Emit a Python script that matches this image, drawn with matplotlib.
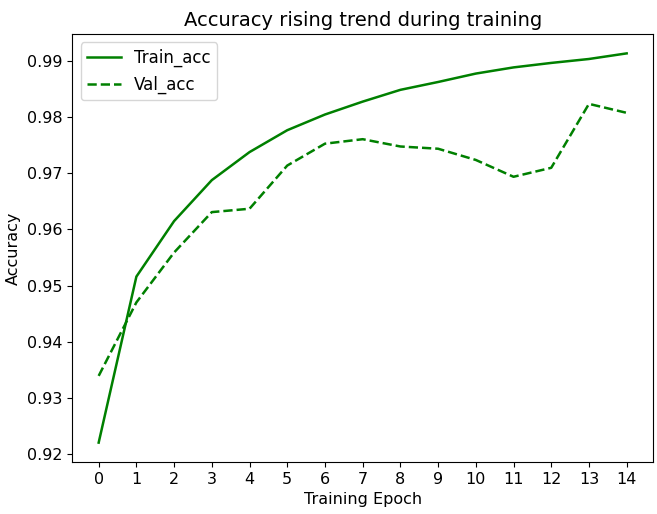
import matplotlib
matplotlib.use('Agg')
import matplotlib.pyplot as plt
import numpy as np

epochs = list(range(15))
train_acc = [0.9220, 0.9516, 0.9615, 0.9688, 0.9738, 0.9777, 0.9805, 0.9828,
             0.9849, 0.9863, 0.9878, 0.9889, 0.9897, 0.9904, 0.9914]
val_acc = [0.9339, 0.9470, 0.9559, 0.9631, 0.9637, 0.9714, 0.9753, 0.9761,
           0.9748, 0.9744, 0.9724, 0.9694, 0.9710, 0.9824, 0.9808]

fig = plt.figure(figsize=(6.57, 5.14), dpi=100)
ax = fig.add_axes([0.110, 0.101, 0.884, 0.833])
ax.plot(epochs, train_acc, 'g-', lw=1.8, label='Train_acc')
ax.plot(epochs, val_acc, 'g--', lw=1.8, label='Val_acc')

ax.set_xticks(epochs)
ax.set_yticks([0.92, 0.93, 0.94, 0.95, 0.96, 0.97, 0.98, 0.99])
ax.tick_params(labelsize=11.5)
ax.set_xlabel('Training Epoch', fontsize=11.5)
ax.set_ylabel('Accuracy', fontsize=11.5)
ax.set_title('Accuracy rising trend during training', fontsize=14)
ax.legend(loc='upper left', fontsize=12)

fig.savefig('out.png', dpi=100)
